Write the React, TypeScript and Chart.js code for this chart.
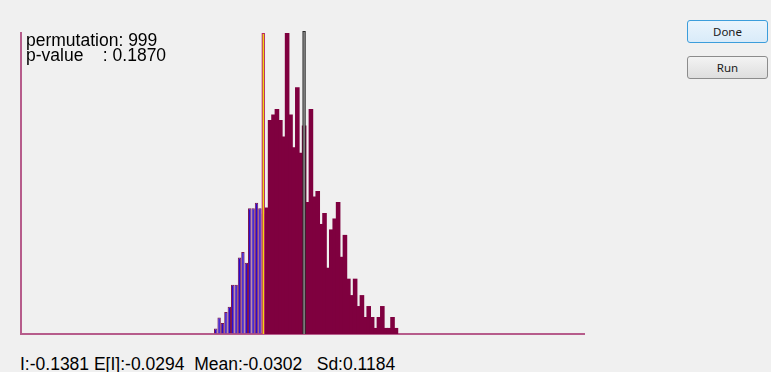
import React, { useEffect, useRef } from "react";
import { Chart, registerables } from "chart.js";

Chart.register(...registerables);

// ---- data ----
// Histogram of 999 permutation Moran's I values (counts per bin)
const binCounts: number[] = [
  1, 3, 2, 4, 5, 9, 9, 14, 15, 13, 23, 23, 24, 23, 22,
  23, 39, 40, 41, 39, 36, 55, 40, 34, 45, 33, 38,
  24, 41, 25, 26, 20, 22, 12, 19, 21, 24, 14, 18, 10, 7, 10, 5, 7, 3, 5, 3, 1, 3, 5, 1, 1, 3, 1,
];
const firstBinCenter = -0.2641;
const binWidth = 0.009;
const xRange: number[] = [-0.7795, 0.7107];

const permutations = 999;
const pValue = "0.1870";
const observedI = -0.1381;
const expectedI = -0.0294;
const meanI = -0.0302;
const sdI = 0.1184;

const countMax = 55;

const binCenters: number[] = binCounts.map((_, i) => firstBinCenter + i * binWidth);

const MAROON = "#7f003f";
const BLUE = "#2a0ad2";
const AXIS = "#b65c8b";

const markers = [
  { value: observedI, fill: "#f2e20e", stroke: "#b8285f", overshoot: 0 },
  { value: meanI, fill: "#9c9c9c", stroke: "#2a2a2a", overshoot: 2 },
];

const markerPlugin = {
  id: "permMarkers",
  afterDatasetsDraw(chart: any) {
    const { ctx, scales, chartArea } = chart;
    const x = scales.x;
    const y = scales.y;
    const bw = Math.abs(x.getPixelForValue(binWidth) - x.getPixelForValue(0));
    const bottom = chartArea.bottom;
    ctx.save();
    markers.forEach((m) => {
      const cx = x.getPixelForValue(m.value);
      const top = y.getPixelForValue(countMax) - m.overshoot;
      const w = bw * 0.95;
      const left = cx - w / 2;
      ctx.fillStyle = m.stroke;
      ctx.fillRect(left, top, w, bottom - top);
      ctx.fillStyle = m.fill;
      ctx.fillRect(left + 1, top + 1, w - 2, bottom - top - 1);
    });
    ctx.restore();
  },
};

function HistChart() {
  const ref = useRef<HTMLCanvasElement | null>(null);
  useEffect(() => {
    if (!ref.current) return;
    const isLow = binCenters.map((c) => c <= observedI + 1e-9);
    const chart = new Chart(ref.current, {
      type: "bar",
      data: {
        datasets: [
          {
            data: binCenters.map((c, i) => ({ x: c, y: binCounts[i] })),
            backgroundColor: isLow.map((b) => (b ? BLUE : MAROON)),
            borderColor: isLow.map((b) => (b ? "#7a1650" : MAROON)),
            borderWidth: isLow.map((b) => (b ? 1 : 0)),
            borderSkipped: "bottom",
            inflateAmount: isLow.map((b) => (b ? 0 : 0.6)) as any,
            barPercentage: 1,
            categoryPercentage: 1,
          },
        ],
      },
      options: {
        animation: false,
        responsive: false,
        maintainAspectRatio: false,
        events: [],
        layout: { padding: { left: 21, top: 33, right: 16, bottom: 11 } },
        plugins: {
          legend: { display: false },
          tooltip: { enabled: false },
          title: { display: false },
        },
        scales: {
          x: {
            type: "linear",
            position: "bottom",
            min: xRange[0],
            max: xRange[1],
            offset: false,
            grid: { display: true, drawOnChartArea: false, drawTicks: false },
            border: { display: true, color: AXIS, width: 2 },
            ticks: { display: false },
          },
          y: {
            type: "linear",
            position: "left",
            min: 0,
            max: countMax,
            grid: { display: true, drawOnChartArea: false, drawTicks: false },
            border: { display: true, color: AXIS, width: 2 },
            ticks: { display: false },
          },
        },
      },
      plugins: [markerPlugin],
    });
    return () => chart.destroy();
  }, []);
  return (
    <canvas
      ref={ref}
      width={600}
      height={345}
      style={{ position: "absolute", left: 0, top: 0, width: 600, height: 345 }}
    />
  );
}

const btnBase: React.CSSProperties = {
  position: "absolute",
  left: 687,
  width: 81,
  height: 23,
  boxSizing: "border-box",
  borderRadius: 3,
  fontFamily: "'Noto Sans', 'DejaVu Sans', sans-serif",
  fontSize: 11.5,
  color: "#1a1a1a",
  display: "flex",
  alignItems: "center",
  justifyContent: "center",
  padding: 0,
};

export default function App() {
  const textStyle: React.CSSProperties = {
    position: "absolute",
    fontFamily: "'Liberation Sans', Arial, sans-serif",
    color: "#000",
    whiteSpace: "pre",
    lineHeight: 1,
  };
  return (
    <div
      style={{
        position: "fixed",
        left: 0,
        top: 0,
        width: 771,
        height: 372,
        background: "#f0f0f0",
        overflow: "hidden",
      }}
    >
      <HistChart />
      <div style={{ ...textStyle, left: 26, top: 31.5, fontSize: 17.5 }}>{`permutation: ${permutations}`}</div>
      <div style={{ ...textStyle, left: 26, top: 46.5, fontSize: 17.5 }}>{`p-value    : ${pValue}`}</div>
      <div style={{ ...textStyle, left: 20, top: 355.5, fontSize: 17.5 }}>
        {`I:${observedI.toFixed(4)} E[I]:${expectedI.toFixed(4)}  Mean:${meanI.toFixed(4)}   Sd:${sdI.toFixed(4)}`}
      </div>
      <div
        style={{
          ...btnBase,
          top: 20,
          border: "1px solid #3c9ddb",
          background: "linear-gradient(#eaf4fc, #d9ebf9)",
        }}
      >
        Done
      </div>
      <div
        style={{
          ...btnBase,
          top: 56,
          border: "1px solid #8c8c8c",
          background: "linear-gradient(#f3f3f3, #dedede)",
        }}
      >
        Run
      </div>
    </div>
  );
}
